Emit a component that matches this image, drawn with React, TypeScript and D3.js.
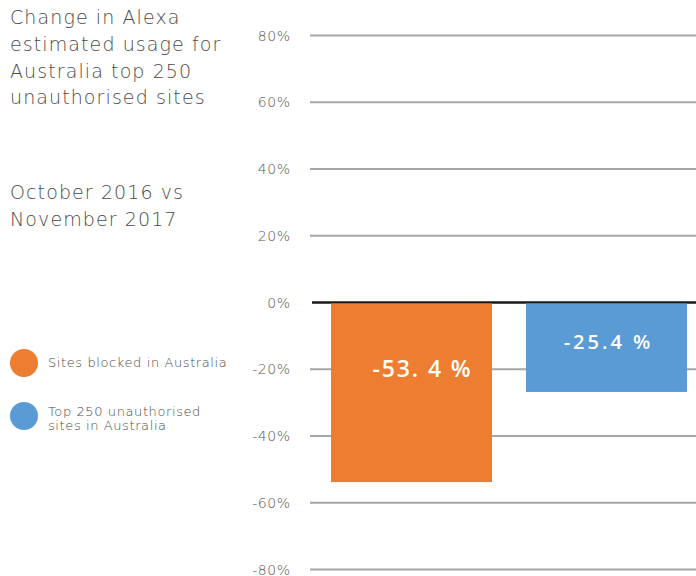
import React from "react";
import * as d3 from "d3";

const categories = ["Sites blocked in Australia", "Top 250 unauthorised sites in Australia"];
const barValues = [-53.8, -26.8];
const barLabels = ["-53. 4 %", "-25.4 %"];
const colors = ["#ED7D31", "#5B9BD5"];
const ticks = [80, 60, 40, 20, 0, -20, -40, -60, -80];
const titleLines = ["Change in Alexa", "estimated usage for", "Australia top 250", "unauthorised sites"];
const subtitleLines = ["October 2016 vs", "November 2017"];
const legendLines = [["Sites blocked in Australia"], ["Top 250 unauthorised", "sites in Australia"]];

const W = 696, H = 576;
const FONT = "'DejaVu Sans', sans-serif";

export default function App() {
  const y = d3.scaleLinear().domain([-80, 80]).range([569.5, 35.5]);
  const x = d3.scaleBand<string>().domain(categories).range([312, 706]).paddingInner(0.1744).paddingOuter(0.0974);
  return (
    <svg width={W} height={H} style={{ position: "absolute", left: 0, top: 0 }} fontFamily={FONT}>
      <rect width={W} height={H} fill="#fff" />
      {titleLines.map((t, i) => (
        <text key={t} x={10} y={24 + i * 26.8} fontSize={19} fontWeight={200} fill="#4a4a4a" letterSpacing={1.1}>{t}</text>
      ))}
      {subtitleLines.map((t, i) => (
        <text key={t} x={10} y={199 + i * 27} fontSize={19} fontWeight={200} fill="#4a4a4a" letterSpacing={1.1}>{t}</text>
      ))}
      {ticks.map((t) => (
        <g key={t}>
          <line x1={t === 0 ? 312 : 310} x2={W} y1={y(t)} y2={y(t)} stroke={t === 0 ? "#1a1a1a" : "#a6a6a6"} strokeWidth={t === 0 ? 2.5 : 2} />
          <text x={290.5} y={y(t) + 5} textAnchor="end" fontSize={14} fontWeight={200} fill="#555" letterSpacing={0.5}>{t}%</text>
        </g>
      ))}
      {categories.map((c, i) => (
        <rect key={c} x={x(c)} width={x.bandwidth()} y={y(0) + 1} height={y(barValues[i]) - y(0) - 1} fill={colors[i]} />
      ))}
      {categories.map((c, i) => (
        <text key={c + "l"} x={(x(c) as number) + x.bandwidth() / 2 + (i === 0 ? 11 : 2)} y={i === 0 ? 376.5 : 349} textAnchor="middle"
          fontFamily="'Open Sans', sans-serif" fontSize={i === 0 ? 23 : 20} fontWeight={600} fill="#fff" letterSpacing={i === 0 ? 1.9 : 3}>{barLabels[i]}</text>
      ))}
      {categories.map((c, i) => (
        <g key={c + "g"}>
          <circle cx={24} cy={i === 0 ? 363 : 416} r={14} fill={colors[i]} />
          {legendLines[i].map((t, j) => (
            <text key={t} x={48} y={(i === 0 ? 366.5 : 415.5) + j * 14.5} fontSize={13} fontWeight={200} fill="#4a4a4a" letterSpacing={0.6}>{t}</text>
          ))}
        </g>
      ))}
    </svg>
  );
}
